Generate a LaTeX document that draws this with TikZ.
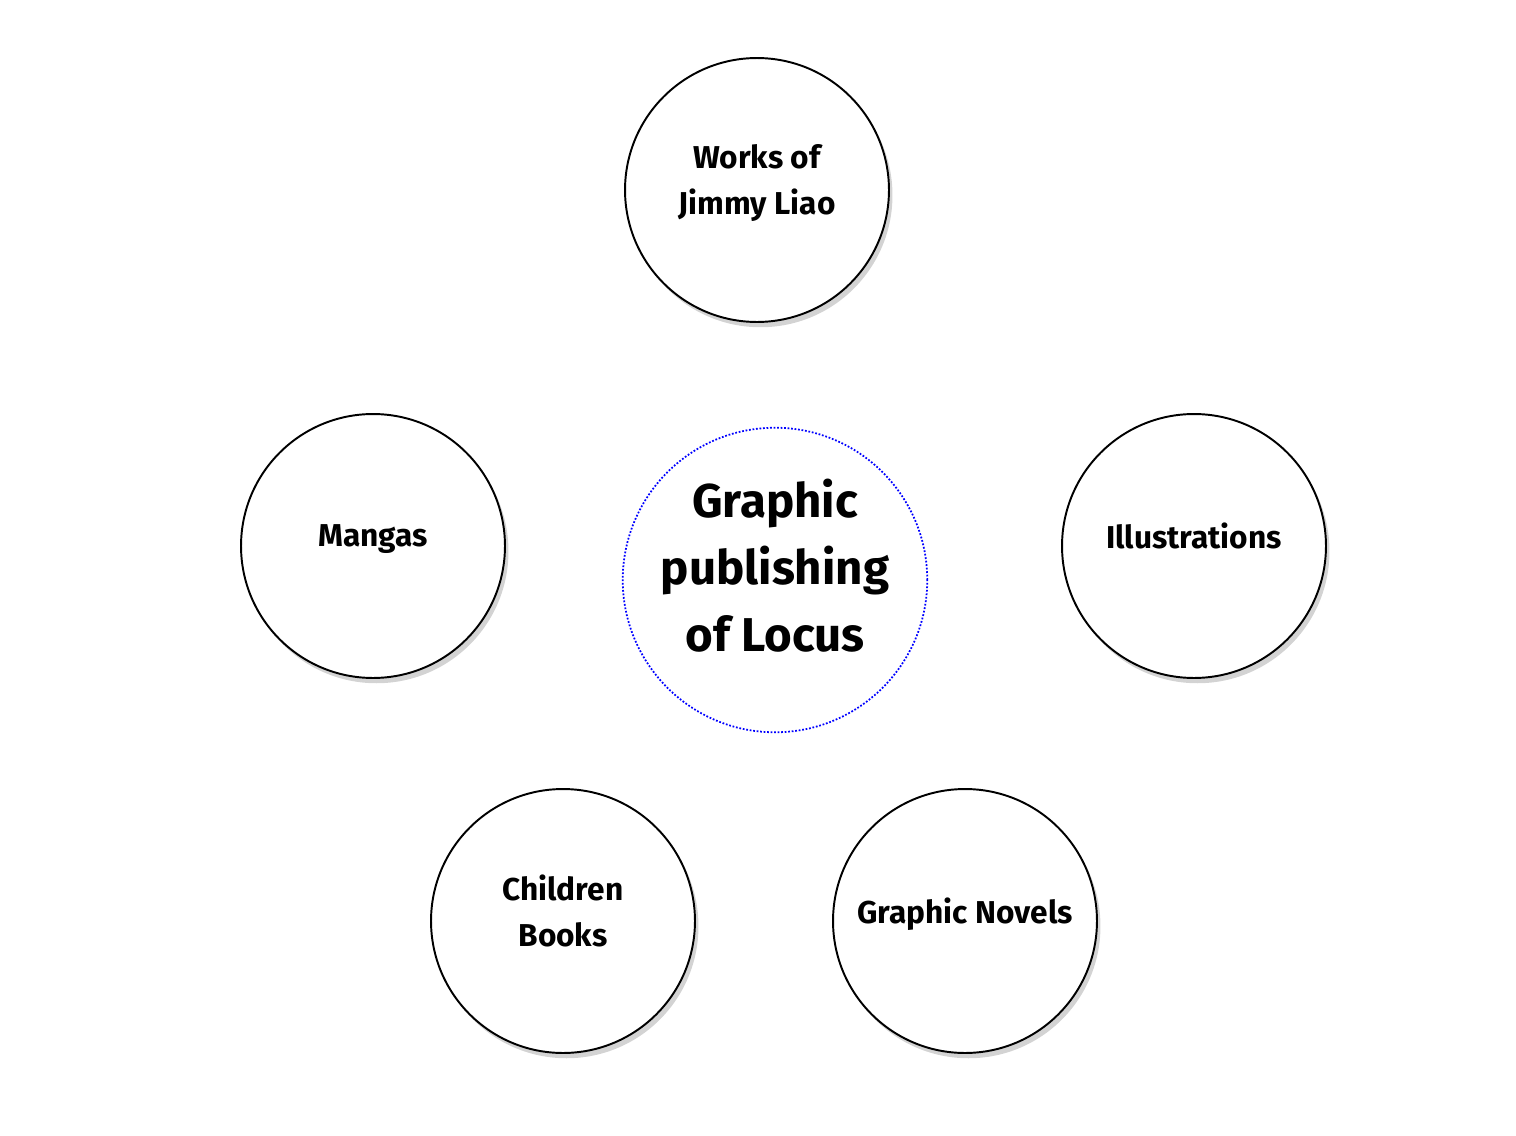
\documentclass[tikz,border=0pt]{standalone}
\usepackage{fontspec}
\setmainfont{Fira Sans}
\usetikzlibrary{shadows}
\begin{document}
\begin{tikzpicture}[x=0.02cm,y=-0.02cm]
    \tikzstyle{topic}=[circle,draw=black,line width=1.1pt,fill=white,
        minimum size=5.28cm,inner sep=0pt,align=center,text depth=12pt,
        font=\fontsize{18}{26}\selectfont\bfseries,
        drop shadow={shadow xshift=2pt,shadow yshift=-3pt,opacity=0.35}]
    \tikzstyle{hub}=[circle,draw=blue,densely dotted,line width=1pt,minimum size=5.88cm,
        inner sep=0pt,align=center,text depth=17pt,font=\fontsize{27}{38}\selectfont\bfseries]

    \useasboundingbox (0,0) rectangle (1516,1136);

    % Centre topic
    \node[hub] (locus) at (775,580) {Graphic\\publishing\\of Locus};

    % Surrounding topics
    \node[topic] (liao) at (757,190) {Works of\\Jimmy Liao};
    \node[topic] (mangas) at (373,546) {Mangas};
    \node[topic] (illus) at (1194,546) {Illustrations};
    \node[topic] (children) at (563,921) {Children\\Books};
    \node[topic] (novels) at (965,921) {Graphic Novels};
\end{tikzpicture}
\end{document}
